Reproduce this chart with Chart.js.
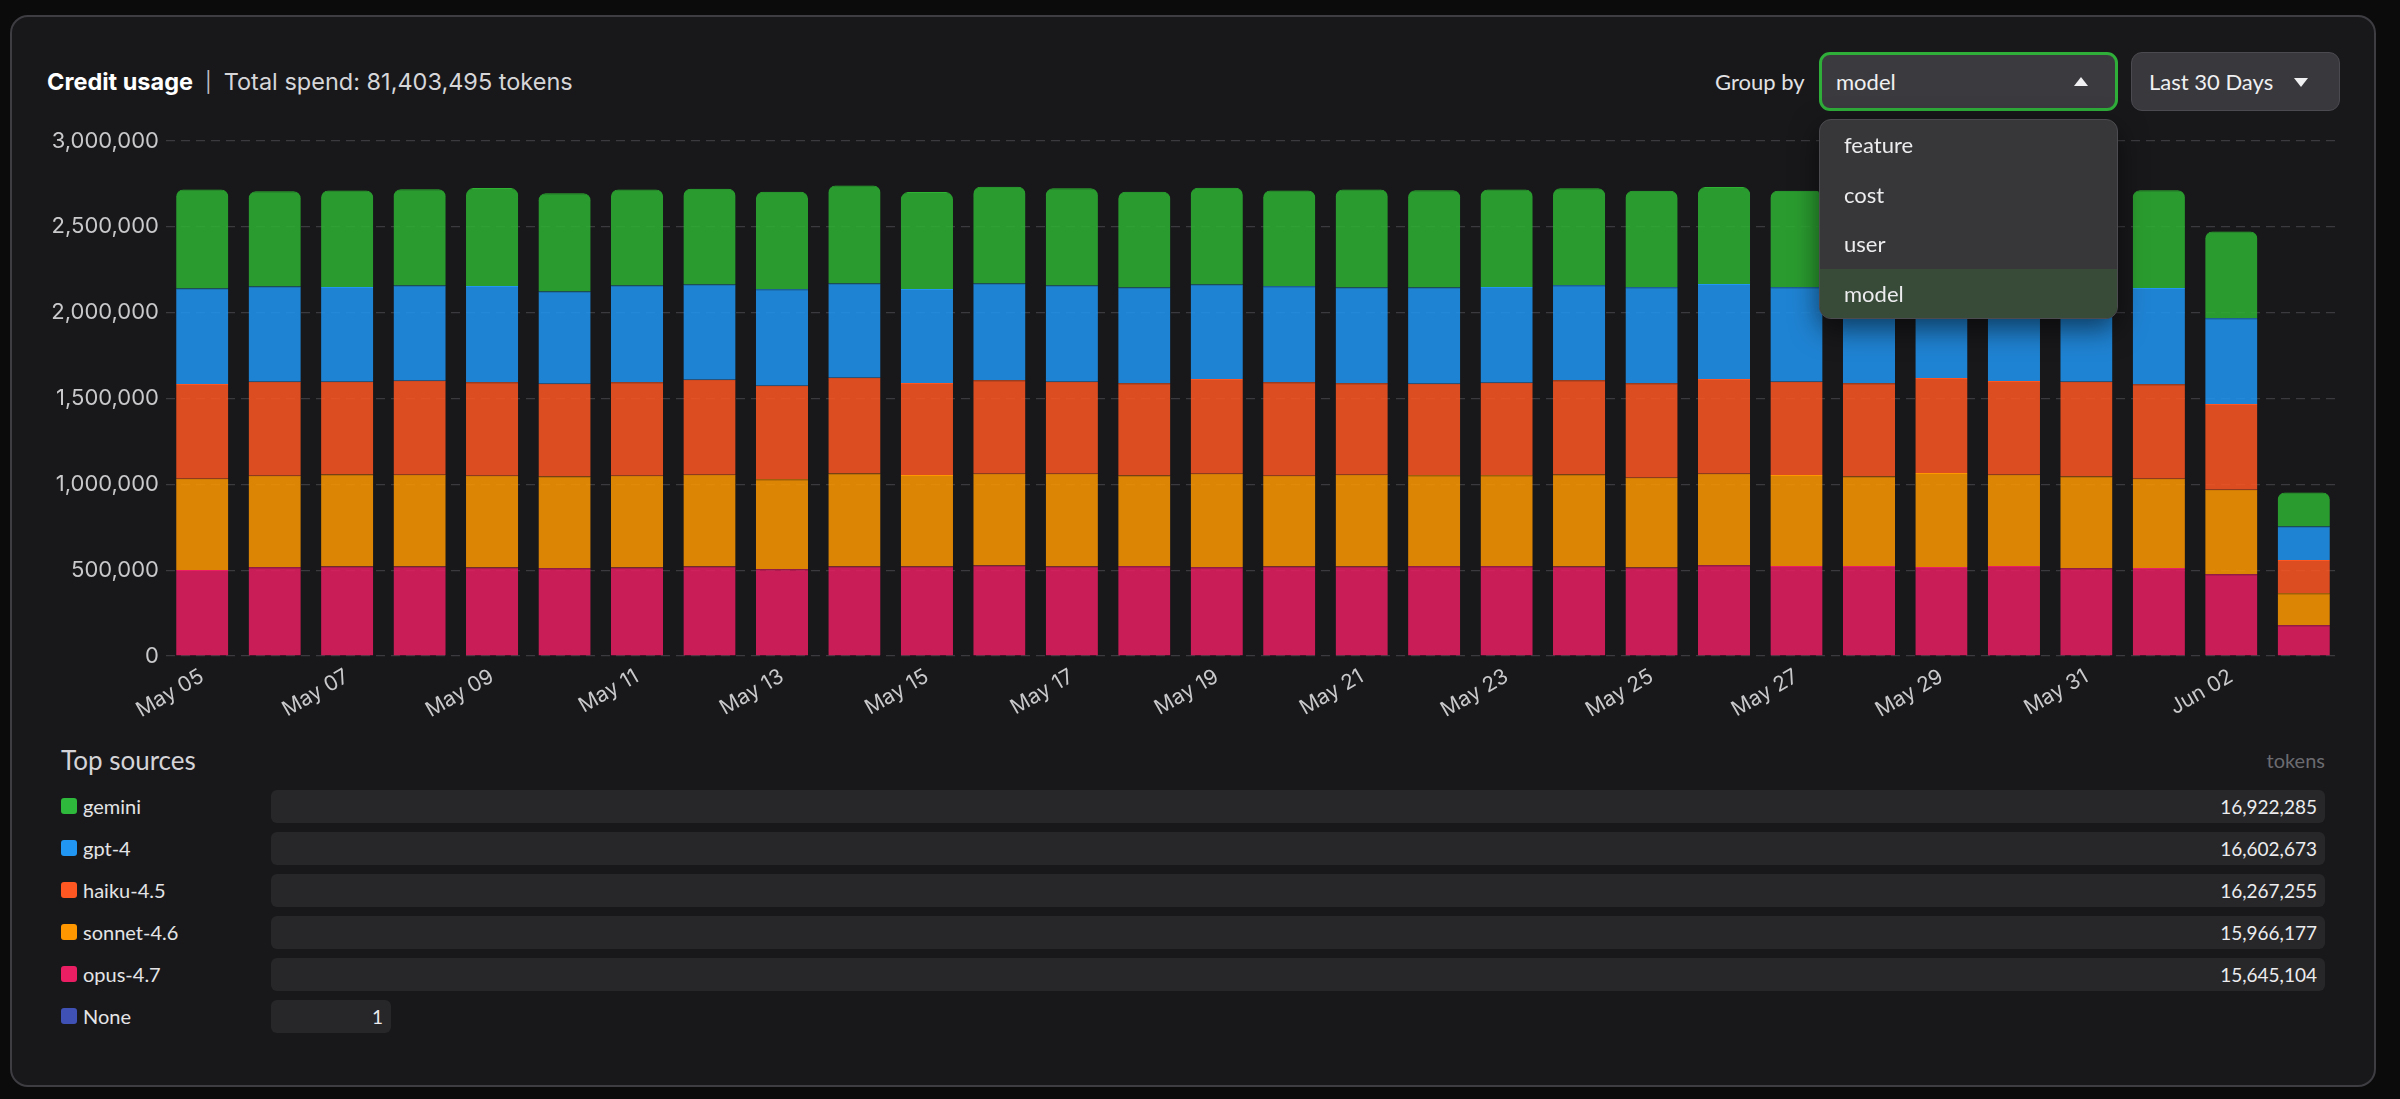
<!DOCTYPE html>
<html>
<head>
<meta charset="utf-8">
<title>Credit usage</title>
<script src="https://cdn.jsdelivr.net/npm/chart.js@4.4.1/dist/chart.umd.min.js"></script>
<style>
    html, body {
        margin: 0;
        padding: 0;
        width: 2400px;
        height: 1099px;
        overflow: hidden;
        background: #0b0b0c;
        font-family: Lato, "Noto Sans", sans-serif;
        color: #e6e6e8;
    }
    .card {
        position: absolute;
        left: 10px; top: 15px;
        width: 2366px; height: 1072px;
        box-sizing: border-box;
        border: 2px solid #3d3d42;
        border-radius: 18px;
        background: #18181b;
    }
    .abs { position: absolute; white-space: nowrap; }
    .title { left: 47px; top: 67px; font-family: Inter, Lato, sans-serif; font-size: 23.5px; line-height: 30px; color: #d6d6d9; }
    .title b { color: #fff; font-weight: 700; }
    .title .sep { margin: 0 12px; color: #bdbdc2; font-size: 20px; position: relative; top: -1px; }
    .groupby { left: 1715px; top: 67px; font-size: 22px; line-height: 30px; color: #e2e2e4; }
    .select {
        left: 1819px; top: 52px; width: 299px; height: 59px;
        box-sizing: border-box;
        border: 3px solid #2fae3a; border-radius: 11px;
        background: #3b3b3f;
        font-size: 22px; line-height: 53px; padding-left: 14px; color: #f0f0f2;
    }
    .range {
        left: 2131px; top: 52px; width: 209px; height: 59px;
        box-sizing: border-box;
        border: 1px solid #4a4a50; border-radius: 11px;
        background: #39393d;
        font-size: 22px; line-height: 57px; padding-left: 17px; color: #f0f0f2;
    }
    .caret-up, .caret-down {
        position: absolute; width: 0; height: 0;
        border-left: 7px solid transparent; border-right: 7px solid transparent;
    }
    .caret-up { border-bottom: 9px solid #f0f0f2; left: 252px; top: 22px; }
    .caret-down { border-top: 9px solid #f0f0f2; left: 162px; top: 25px; }
    .menu {
        left: 1819px; top: 119px; width: 299px; height: 200px;
        box-sizing: border-box;
        border: 1px solid #4b4b50; border-radius: 12px;
        background: #373739; overflow: hidden;
        box-shadow: 0 10px 28px rgba(0,0,0,0.55);
        z-index: 5;
    }
    .menu div { height: 49.5px; line-height: 49.5px; padding-left: 24px; font-size: 22px; color: #ececee; }
    .menu div.active { background: #384a38; }
    #chartWrap { position: absolute; left: 0; top: 120px; width: 2360px; height: 620px; }
    .sources { left: 61px; top: 745px; font-size: 26px; line-height: 30px; color: #d4d4d8; }
    .unit { left: 2225px; width: 100px; text-align: right; top: 748px; font-size: 20px; line-height: 24px; color: #6b6b70; }
    .row { position: absolute; left: 0; width: 2400px; height: 33px; }
    .row .sw { position: absolute; left: 61px; top: 8px; width: 16px; height: 16px; border-radius: 3px; }
    .row .lbl { position: absolute; left: 83px; top: 0; line-height: 33px; font-size: 20px; color: #e4e4e6; }
    .row .track {
        position: absolute; left: 271px; top: 0; height: 33px;
        border-radius: 6px; background: #27272a;
        font-size: 19px; line-height: 33px; text-align: right;
        box-sizing: border-box; padding-right: 8px; color: #ececee;
    }
</style>
</head>
<body>
<div class="card"></div>

<div class="abs title"><b>Credit usage</b><span class="sep">|</span>Total spend: 81,403,495 tokens</div>
<div class="abs groupby">Group by</div>
<div class="abs select">model<span class="caret-up"></span></div>
<div class="abs range">Last 30 Days<span class="caret-down"></span></div>
<div class="abs menu">
    <div>feature</div>
    <div>cost</div>
    <div>user</div>
    <div class="active">model</div>
</div>

<div id="chartWrap"><canvas id="usageChart"></canvas></div>

<div class="abs sources">Top sources</div>
<div class="abs unit">tokens</div>
<div id="sourceRows"></div>

<script>
// days shown on the x axis
const dates = ['May 05', 'May 06', 'May 07', 'May 08', 'May 09', 'May 10', 'May 11', 'May 12',
    'May 13', 'May 14', 'May 15', 'May 16', 'May 17', 'May 18', 'May 19', 'May 20', 'May 21',
    'May 22', 'May 23', 'May 24', 'May 25', 'May 26', 'May 27', 'May 28', 'May 29', 'May 30',
    'May 31', 'Jun 01', 'Jun 02', 'Jun 03'];

// daily tokens per model
const opus = [501600, 517100, 521000, 521000, 515200, 511300, 515200, 521000, 505400, 521000,
    521000, 526800, 521000, 522900, 517100, 521000, 521000, 522900, 522900, 521000,
    515200, 528800, 524900, 524900, 519000, 524900, 511300, 513200, 476300, 178800];
const sonnet = [530700, 532700, 536500, 534600, 534600, 534600, 534600, 534600, 524900, 542400,
    532700, 534600, 540400, 528800, 544300, 528800, 534600, 530700, 530700, 536500,
    522900, 532700, 528800, 521000, 546300, 530700, 534600, 519000, 491800, 186600];
const haiku = [552100, 548200, 540400, 548200, 544300, 540400, 544300, 554000, 544300, 557900,
    536500, 544300, 536500, 536500, 552100, 544300, 532700, 532700, 538500, 548200,
    550200, 552100, 544300, 542400, 554000, 546300, 552100, 550200, 499600, 194400];
const gpt4 = [556000, 554000, 552100, 554000, 561800, 536500, 563800, 554000, 561800, 548200,
    548200, 563800, 559900, 557900, 550200, 559900, 557900, 559900, 557900, 554000,
    559900, 554000, 550200, 556000, 558000, 553000, 555000, 561800, 499600, 194400];
const gemini = [577400, 556000, 561800, 561800, 569600, 573500, 559900, 557900, 567600, 571500,
    563800, 563800, 567600, 557900, 563800, 557900, 571500, 567600, 567600, 565700,
    561800, 563800, 561800, 566000, 562000, 565000, 568000, 569600, 505400, 198300];

// top sources list
const sourceNames = ['gemini', 'gpt-4', 'haiku-4.5', 'sonnet-4.6', 'opus-4.7', 'None'];
const sourceTotals = [16922285, 16602673, 16267255, 15966177, 15645104, 1];
const sourceColors = ['#2eb83c', '#2196f3', '#ff5722', '#ff9800', '#e91e63', '#3f51b5'];

const yTicks = [0, 500000, 1000000, 1500000, 2000000, 2500000, 3000000];

function fade(hex, a) {
    const n = parseInt(hex.slice(1), 16);
    return `rgba(${(n >> 16) & 255}, ${(n >> 8) & 255}, ${n & 255}, ${a})`;
}

Chart.defaults.font.family = 'Inter, Lato, sans-serif';

function makeSet(label, data, color, top) {
    return {
        label: label,
        data: data,
        backgroundColor: fade(color, 0.85),
        borderColor: color,
        borderWidth: { top: 1, right: 0, bottom: 0, left: 0 },
        borderRadius: top ? { topLeft: 7, topRight: 7 } : 0,
        borderSkipped: 'start',
        barPercentage: 0.72,
        categoryPercentage: 1.0
    };
}

const usageChart = new Chart(document.getElementById('usageChart'), {
    type: 'bar',
    data: {
        labels: dates,
        datasets: [
            makeSet('opus-4.7', opus, '#e91e63'),
            makeSet('sonnet-4.6', sonnet, '#ff9800'),
            makeSet('haiku-4.5', haiku, '#ff5722'),
            makeSet('gpt-4', gpt4, '#2196f3'),
            makeSet('gemini', gemini, '#2eb432', true)
        ]
    },
    options: {
        responsive: true,
        maintainAspectRatio: false,
        animation: false,
        layout: { padding: { top: 21, right: 20, left: 0, bottom: 0 } },
        plugins: {
            legend: { display: false },
            tooltip: { enabled: false }
        },
        scales: {
            x: {
                stacked: true,
                grid: { display: false },
                border: { display: false },
                ticks: {
                    color: '#c9c9cc',
                    font: { size: 21 },
                    autoSkip: false,
                    minRotation: 30,
                    maxRotation: 30,
                    padding: 0,
                    callback: (v, i) => (i % 2 === 0 ? dates[i] : '')
                },
                afterFit: (scale) => { scale.height = 84; }
            },
            y: {
                stacked: true,
                min: yTicks[0],
                max: yTicks[yTicks.length - 1],
                grid: { color: '#3a3a3f', lineWidth: 1.2, drawTicks: false },
                border: { display: false, dash: [9, 6] },
                ticks: {
                    stepSize: yTicks[1] - yTicks[0],
                    color: '#c9c9cc',
                    font: { size: 22 },
                    padding: 7,
                    callback: (v) => v.toLocaleString('en-US')
                },
                afterFit: (scale) => { scale.width = 166; }
            }
        }
    }
});

// Build the top sources rows
const rowsEl = document.getElementById('sourceRows');
sourceNames.forEach((name, i) => {
    const row = document.createElement('div');
    row.className = 'row';
    row.style.top = (790 + 42 * i) + 'px';
    const full = sourceTotals[i] > 1000;
    row.innerHTML =
        `<span class="sw" style="background:${sourceColors[i]}"></span>` +
        `<span class="lbl">${name}</span>` +
        `<span class="track" style="width:${full ? 2054 : 120}px">${sourceTotals[i].toLocaleString('en-US')}</span>`;
    rowsEl.appendChild(row);
});
</script>
</body>
</html>
